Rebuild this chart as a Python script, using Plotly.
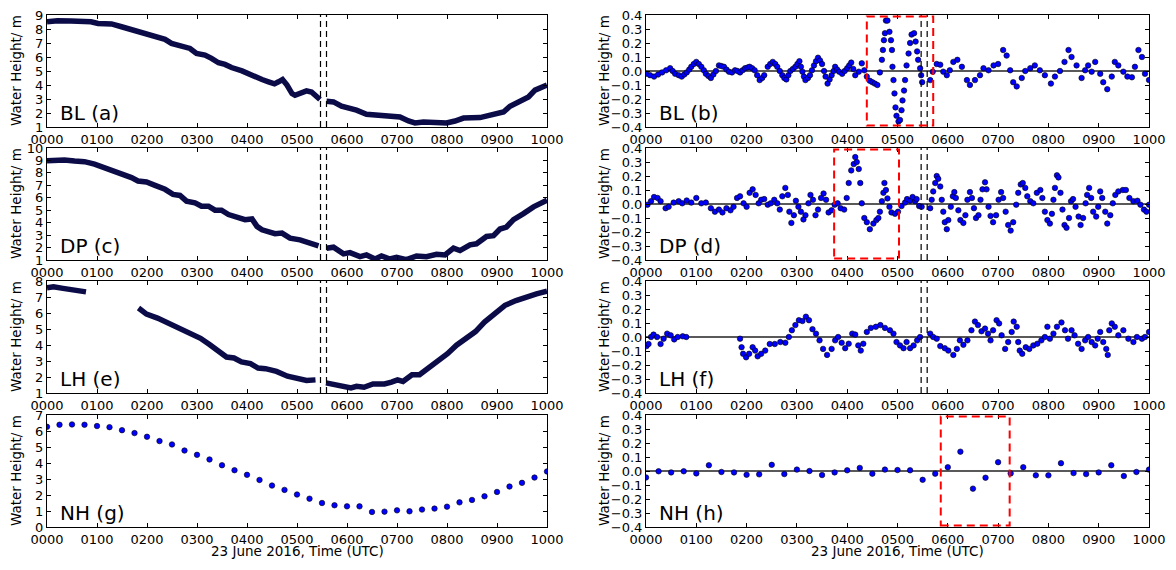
import plotly.graph_objects as go

# ---------------- data ----------------
hour_ticks = list(range(11))
hour_labels = ["0000", "0100", "0200", "0300", "0400", "0500",
               "0600", "0700", "0800", "0900", "1000"]
res_ticks = [-0.4, -0.3, -0.2, -0.1, 0.0, 0.1, 0.2, 0.3, 0.4]
res_labels = ["\u22120.4", "\u22120.3", "\u22120.2", "\u22120.1", "0.0", "0.1", "0.2", "0.3", "0.4"]

event_start = 5.47
event_end = 5.59

# BL water height (a)
bl_t = [0, 0.21, 0.48, 0.75, 0.88, 1.02, 1.15, 1.29, 1.49, 1.69, 1.82, 1.99, 2.16, 2.36, 2.49, 2.66,
        2.86, 2.99, 3.16, 3.29, 3.43, 3.56, 3.69, 3.9, 4.03, 4.16, 4.3, 4.43, 4.55, 4.63, 4.71, 4.8,
        4.9, 4.96, 5.06, 5.19, 5.29, 5.39, 5.46, 5.53, 5.59, 5.73, 5.89, 6.03, 6.19, 6.39, 6.59, 6.86,
        7.06, 7.23, 7.36, 7.53, 7.79, 7.99, 8.16, 8.33, 8.66, 8.83, 8.99, 9.13, 9.26, 9.46, 9.63, 9.76, 10.0]
bl_h = [8.52, 8.59, 8.57, 8.59, 8.52, 8.4, 8.4, 8.36, 8.16, 7.97, 7.85, 7.69, 7.5, 7.26, 6.97, 6.78,
        6.61, 6.26, 6.14, 5.9, 5.59, 5.47, 5.25, 5.01, 4.78, 4.63, 4.39, 4.23, 4.08, 4.23, 4.39, 3.99,
        3.39, 3.27, 3.39, 3.58, 3.5, 3.15, 2.96, None, 2.84, 2.79, 2.48, 2.39, 2.2, 1.91, 1.84, 1.72,
        1.72, 1.43, 1.29, 1.36, 1.36, 1.29, 1.43, 1.64, 1.67, 1.84, 2.0, 2.07, 2.48, 2.79, 3.15, 3.63, 3.99]

# DP water height (c)
dp_t = [0, 0.18, 0.35, 0.55, 0.75, 0.95, 1.15, 1.35, 1.55, 1.69, 1.82, 1.99, 2.16, 2.36, 2.52, 2.66,
        2.79, 2.96, 3.09, 3.23, 3.36, 3.49, 3.63, 3.83, 3.96, 4.1, 4.2, 4.3, 4.43, 4.56, 4.7, 4.86,
        5.06, 5.26, 5.43, 5.51, 5.59, 5.73, 5.93, 6.06, 6.26, 6.39, 6.56, 6.69, 6.86, 6.99, 7.19, 7.39,
        7.59, 7.79, 7.96, 8.13, 8.26, 8.46, 8.59, 8.79, 8.93, 9.06, 9.19, 9.33, 9.53, 9.73, 10.0]
dp_h = [8.97, 9.05, 9.03, 8.95, 8.9, 8.7, 8.43, 8.1, 7.9, 7.62, 7.35, 7.27, 7.0, 6.68, 6.27, 6.19,
        5.73, 5.59, 5.32, 5.32, 5.0, 5.0, 4.65, 4.38, 4.24, 4.3, 3.7, 3.43, 3.3, 3.11, 3.16, 2.76,
        2.62, 2.4, 2.13, None, 1.95, 2.03, 1.49, 1.59, 1.27, 1.41, 1.08, 1.32, 1.08, 1.22, 1.03, 1.32,
        1.27, 1.46, 1.41, 1.95, 1.76, 2.22, 2.3, 2.89, 2.95, 3.49, 3.65, 4.24, 4.73, 5.27, 5.81]

# LH water height (e)
lh_t = [0, 0.13, 0.32, 0.5, 0.62, 0.78, 1.3, 1.83, 1.99, 2.21, 2.44, 2.66, 2.88, 3.07, 3.25, 3.44,
        3.59, 3.74, 3.89, 4.07, 4.22, 4.37, 4.59, 4.81, 5.04, 5.19, 5.37, 5.48, 5.58, 5.74, 5.93, 6.08,
        6.19, 6.34, 6.52, 6.75, 6.89, 7.01, 7.12, 7.3, 7.45, 7.64, 7.82, 8.01, 8.19, 8.38, 8.57, 8.75,
        8.97, 9.16, 9.38, 9.57, 9.79, 10.0]
lh_h = [7.58, 7.64, 7.54, 7.45, 7.43, 7.32, None, 6.31, 5.93, 5.68, 5.36, 5.0, 4.67, 4.42, 4.03, 3.61,
        3.25, 3.19, 2.94, 2.84, 2.56, 2.52, 2.35, 2.05, 1.89, 1.78, 1.82, None, 1.63, 1.51, 1.36, 1.32,
        1.42, 1.36, 1.57, 1.57, 1.68, 1.82, 1.72, 2.14, 2.14, 2.56, 2.98, 3.46, 3.99, 4.41, 4.84, 5.43,
        6.0, 6.48, 6.78, 6.99, 7.2, 7.37]

# NH water height (g), 15-minute samples
nh_t = [0, 0.25, 0.5, 0.75, 1.0, 1.25, 1.5, 1.75, 2.0, 2.25, 2.5, 2.75, 3.0, 3.25, 3.5, 3.75, 4.0,
        4.25, 4.5, 4.75, 5.0, 5.25, 5.5, 5.75, 6.0, 6.25, 6.5, 6.75, 7.0, 7.25, 7.5, 7.75, 8.0, 8.25,
        8.5, 8.75, 9.0, 9.25, 9.5, 9.75, 10.0]
nh_h = [6.26, 6.39, 6.41, 6.39, 6.31, 6.24, 6.05, 5.87, 5.64, 5.37, 5.16, 4.78, 4.51, 4.22, 3.86,
        3.55, 3.26, 2.94, 2.59, 2.32, 2.03, 1.77, 1.5, 1.36, 1.29, 1.29, 0.94, 0.96, 1.04, 0.98, 1.09,
        1.15, 1.27, 1.54, 1.69, 1.92, 2.19, 2.53, 2.76, 3.09, 3.47]
nh_res = [-0.046, -0.002, -0.01, -0.002, -0.017, 0.041, -0.007, -0.01, -0.027, -0.024, 0.044, -0.022,
          0.01, 0.0, -0.029, -0.01, 0.005, 0.022, -0.019, 0.01, 0.007, 0.005, -0.063, -0.019, 0.027,
          0.138, -0.126, -0.048, 0.063, -0.017, 0.027, -0.031, -0.031, 0.056, -0.015, -0.022, -0.01,
          0.041, -0.036, -0.007, 0.01]

# BL residual (b)
bl_res_t = [0.0, 0.08, 0.16, 0.24, 0.32, 0.4, 0.48, 0.53, 0.58, 0.65, 0.71, 0.76, 0.81, 0.86, 0.9, 0.95,
            1.0, 1.05, 1.1, 1.15, 1.19, 1.24, 1.29, 1.34, 1.39, 1.45, 1.5, 1.55, 1.6, 1.65, 1.71, 1.77,
            1.82, 1.87, 1.92, 1.97, 2.02, 2.06, 2.11, 2.16, 2.21, 2.26, 2.31, 2.35, 2.42, 2.47, 2.52,
            2.57, 2.61, 2.66, 2.71, 2.75, 2.79, 2.83, 2.87, 2.92, 2.97, 3.01, 3.05, 3.08, 3.11, 3.14,
            3.17, 3.22, 3.26, 3.3, 3.34, 3.38, 3.42, 3.46, 3.5, 3.54, 3.57, 3.61, 3.65, 3.69, 3.73,
            3.76, 3.8, 3.84, 3.9, 3.95, 4.0, 4.04, 4.08, 4.12, 4.16, 4.23, 4.29, 4.34, 4.39, 4.45, 4.5,
            4.55, 4.6, 4.65, 4.69, 4.71, 4.73, 4.75, 4.77, 4.8, 4.84, 4.87, 4.89, 4.9, 4.92, 4.94, 4.96,
            4.98, 5.02, 5.05, 5.08, 5.1, 5.13, 5.15, 5.18, 5.22, 5.25, 5.28, 5.33, 5.36, 5.39, 5.41,
            5.45, 5.47, 5.49, 5.56, 5.65, 5.7, 5.78, 5.85, 5.91, 5.98, 6.04, 6.11, 6.19, 6.28, 6.38,
            6.44, 6.54, 6.64, 6.71, 6.81, 6.91, 7.0, 7.1, 7.17, 7.24, 7.3, 7.37, 7.47, 7.54, 7.64, 7.73,
            7.83, 7.93, 8.05, 8.13, 8.23, 8.32, 8.4, 8.46, 8.56, 8.66, 8.73, 8.79, 8.86, 8.93, 9.03,
            9.09, 9.17, 9.26, 9.32, 9.39, 9.49, 9.57, 9.66, 9.72, 9.79, 9.86, 9.92, 10.0]
bl_res = [-0.02, -0.03, -0.04, -0.025, -0.01, 0.005, 0.02, 0.0, -0.02, -0.03, -0.04, -0.025, -0.01, 0.01,
          0.03, 0.05, 0.065, 0.05, 0.03, 0.005, -0.02, -0.035, -0.05, -0.025, 0.0, 0.04, 0.035, 0.03,
          0.01, -0.005, -0.01, 0.005, 0.0, -0.01, 0.005, 0.02, 0.025, 0.03, 0.02, 0.005, -0.03, -0.065,
          -0.05, -0.03, 0.03, 0.05, 0.065, 0.05, 0.03, 0.0, -0.03, -0.05, -0.06, -0.03, 0.0, 0.015,
          0.03, 0.05, 0.07, 0.03, -0.005, -0.04, -0.065, -0.05, -0.03, 0.005, 0.04, 0.07, 0.095, 0.075,
          0.05, 0.0, -0.04, -0.09, -0.06, -0.03, 0.0, 0.03, 0.01, -0.005, -0.02, 0.0, 0.02, 0.04, 0.06,
          0.015, -0.03, -0.005, 0.055, 0.005, -0.04, -0.07, -0.08, -0.09, -0.1, -0.01, 0.08, 0.15, 0.22,
          0.27, 0.36, 0.36, 0.28, 0.22, 0.15, 0.03, -0.065, -0.16, -0.26, -0.32, -0.36, -0.35, -0.28,
          -0.21, -0.14, -0.065, 0.04, 0.125, 0.2, 0.26, 0.27, 0.21, 0.14, 0.08, 0.02, -0.03, -0.08, None,
          -0.065, -0.005, 0.05, 0.045, -0.005, -0.03, 0.005, 0.065, 0.08, 0.03, -0.065, -0.1, -0.065,
          -0.03, 0.02, 0.005, 0.04, 0.05, 0.15, 0.11, 0.005, -0.08, -0.11, -0.05, 0.0, 0.02, 0.04, 0.005,
          -0.03, -0.09, -0.04, 0.0, 0.065, 0.15, 0.1, 0.04, -0.05, 0.005, 0.04, -0.005, 0.065, -0.02,
          -0.08, -0.13, -0.04, 0.065, 0.04, -0.005, -0.04, -0.045, 0.03, 0.15, 0.1, -0.02, -0.065]

# DP residual (d)
dp_res_t = [0.03, 0.1, 0.16, 0.23, 0.29, 0.39, 0.45, 0.55, 0.65, 0.72, 0.81, 0.9, 1.0, 1.1, 1.19, 1.29,
            1.37, 1.45, 1.52, 1.6, 1.68, 1.74, 1.81, 1.87, 1.94, 2.0, 2.06, 2.12, 2.18, 2.24, 2.29, 2.35,
            2.42, 2.48, 2.55, 2.61, 2.66, 2.71, 2.77, 2.82, 2.85, 2.89, 2.94, 2.98, 3.03, 3.08, 3.13,
            3.17, 3.23, 3.27, 3.32, 3.37, 3.42, 3.48, 3.53, 3.58, 3.63, 3.69, 3.75, 3.81, 3.87, 3.94,
            3.99, 4.03, 4.08, 4.13, 4.16, 4.19, 4.23, 4.26, 4.29, 4.34, 4.39, 4.45, 4.52, 4.58, 4.62,
            4.65, 4.69, 4.72, 4.74, 4.77, 4.8, 4.84, 4.88, 4.95, 5.01, 5.08, 5.15, 5.19, 5.25, 5.3, 5.35,
            5.38, 5.43, 5.48, 5.56, 5.65, 5.68, 5.71, 5.75, 5.78, 5.81, 5.85, 5.88, 5.91, 5.94, 5.98,
            6.01, 6.06, 6.1, 6.13, 6.16, 6.21, 6.25, 6.31, 6.35, 6.39, 6.44, 6.48, 6.52, 6.56, 6.61,
            6.65, 6.69, 6.74, 6.77, 6.81, 6.85, 6.9, 6.96, 7.01, 7.06, 7.1, 7.15, 7.2, 7.25, 7.3, 7.36,
            7.4, 7.45, 7.49, 7.54, 7.58, 7.64, 7.7, 7.77, 7.84, 7.88, 7.93, 7.98, 8.03, 8.07, 8.1, 8.13,
            8.17, 8.2, 8.24, 8.28, 8.32, 8.36, 8.41, 8.45, 8.49, 8.54, 8.6, 8.64, 8.69, 8.74, 8.77, 8.81,
            8.85, 8.89, 8.95, 8.99, 9.03, 9.07, 9.13, 9.17, 9.23, 9.28, 9.33, 9.39, 9.48, 9.54, 9.61,
            9.69, 9.77, 9.83, 9.9, 9.95, 10.0]
dp_res = [-0.005, 0.02, 0.05, 0.043, 0.02, -0.03, -0.02, 0.01, 0.02, 0.005, 0.025, 0.01, 0.043, 0.005,
          0.01, -0.03, -0.055, -0.04, -0.06, -0.03, -0.045, -0.02, 0.043, 0.055, 0.005, -0.02, 0.08,
          0.105, 0.065, 0.005, 0.03, 0.035, -0.005, 0.005, 0.03, 0.005, -0.04, 0.055, 0.115, 0.065,
          -0.055, -0.135, -0.08, 0.023, -0.02, -0.055, -0.11, -0.08, 0.005, 0.065, 0.03, -0.08, -0.04,
          0.043, 0.075, 0.03, -0.06, -0.045, -0.005, 0.005, -0.03, -0.04, 0.043, 0.15, 0.24, 0.285,
          0.335, 0.3, 0.25, 0.15, 0.005, -0.1, -0.13, -0.18, -0.14, -0.115, -0.1, -0.055, 0.02, 0.08,
          0.15, 0.1, 0.04, -0.02, -0.06, -0.07, -0.055, -0.015, 0.01, 0.035, 0.023, 0.05, 0.02, 0.035,
          -0.015, -0.02, None, -0.03, 0.03, 0.09, 0.15, 0.2, 0.18, 0.125, 0.03, -0.055, -0.13, -0.18,
          -0.115, -0.02, 0.055, 0.085, 0.043, -0.045, -0.115, -0.135, -0.08, 0.03, 0.085, 0.043, -0.03,
          -0.1, -0.08, 0.03, 0.105, 0.155, 0.105, -0.02, -0.085, -0.13, -0.08, 0.03, 0.085, 0.043,
          -0.055, -0.15, -0.19, -0.13, -0.005, 0.08, 0.14, 0.15, 0.115, 0.055, 0.02, 0.005, 0.08, 0.1,
          0.043, -0.055, -0.115, -0.14, -0.07, 0.03, 0.115, 0.205, 0.19, 0.08, -0.04, -0.15, -0.17,
          -0.1, 0.02, 0.035, -0.02, -0.09, -0.15, -0.1, 0.005, 0.065, 0.115, 0.043, -0.055, -0.09, -0.02,
          0.09, 0.043, -0.055, -0.14, -0.08, 0.005, 0.065, 0.09, 0.1, 0.1, 0.043, 0.02, 0.023, -0.005,
          -0.04, -0.055, -0.005]

# LH residual (f)
lh_res_t = [0.01, 0.05, 0.1, 0.15, 0.22, 0.29, 0.35, 0.42, 0.49, 0.56, 0.63, 0.73, 0.8, 1.3, 1.87, 1.9,
            1.93, 1.99, 2.05, 2.12, 2.17, 2.22, 2.29, 2.37, 2.46, 2.56, 2.67, 2.77, 2.84, 2.9, 2.97,
            3.04, 3.11, 3.18, 3.24, 3.31, 3.38, 3.45, 3.52, 3.6, 3.69, 3.76, 3.82, 3.89, 3.96, 4.03,
            4.1, 4.16, 4.22, 4.27, 4.32, 4.39, 4.47, 4.57, 4.66, 4.75, 4.85, 4.92, 4.98, 5.05, 5.12,
            5.18, 5.25, 5.32, 5.39, 5.45, 5.55, 5.65, 5.71, 5.78, 5.85, 5.94, 6.01, 6.11, 6.18, 6.24,
            6.31, 6.39, 6.47, 6.54, 6.6, 6.67, 6.74, 6.8, 6.85, 6.9, 6.97, 7.02, 7.07, 7.14, 7.2, 7.27,
            7.31, 7.37, 7.4, 7.43, 7.48, 7.55, 7.62, 7.7, 7.78, 7.86, 7.93, 7.98, 8.03, 8.1, 8.17, 8.26,
            8.33, 8.39, 8.46, 8.52, 8.59, 8.66, 8.73, 8.79, 8.86, 8.93, 8.98, 9.03, 9.09, 9.15, 9.18,
            9.21, 9.26, 9.32, 9.39, 9.49, 9.59, 9.69, 9.76, 9.86, 9.92, 10.0]
lh_res = [-0.065, -0.05, 0.0, 0.017, 0.0, -0.05, -0.012, 0.024, 0.012, -0.017, 0.0, 0.005, 0.0, None,
          -0.012, -0.073, -0.12, -0.145, -0.12, -0.073, -0.097, -0.138, -0.12, -0.097, -0.05, -0.05,
          -0.036, -0.041, 0.0, 0.048, 0.085, 0.12, 0.114, 0.145, 0.12, 0.056, 0.024, -0.024, -0.085,
          -0.128, -0.085, -0.024, 0.0, -0.041, -0.08, -0.048, 0.024, 0.017, -0.06, -0.097, -0.048,
          0.036, 0.065, 0.073, 0.085, 0.065, 0.048, 0.024, -0.036, -0.06, -0.08, -0.036, -0.08, -0.06,
          -0.024, 0.0, None, 0.024, 0.0, -0.012, -0.065, -0.08, -0.097, -0.128, -0.085, -0.024, -0.056,
          -0.024, 0.048, 0.11, 0.085, 0.041, 0.06, 0.024, -0.024, 0.048, 0.12, 0.097, 0.012, -0.085,
          -0.036, 0.036, 0.11, 0.073, -0.036, -0.097, -0.12, -0.073, -0.085, -0.06, -0.048, -0.024, 0.0,
          0.073, -0.012, 0.024, 0.073, 0.104, 0.048, -0.012, 0.048, 0.012, -0.048, -0.085, -0.024, 0.0,
          -0.036, -0.06, -0.012, 0.036, -0.036, -0.085, -0.128, 0.048, 0.097, 0.073, 0.012, 0.048,
          -0.012, -0.036, 0.0, -0.012, 0.0, 0.036]

# ---------------- figure ----------------
W, H = 1176, 570
OFF = 8  # page body margin in the browser


def px_x(p):
    return (p - OFF) / W


def px_y(p):
    return 1 - (p - OFF) / H


col_px = [(47, 547), (646, 1149)]
row_px = [(15, 127), (148, 260), (281, 393), (415, 527)]
col_dom = [[px_x(a), px_x(b)] for (a, b) in col_px]
row_dom = [[px_y(b), px_y(t)] for (t, b) in row_px]

FONT = "DejaVu Sans"
BLUE = "#0000ff"

panels = [
    # (kind, x, y, label, yrange, ytickvals, yticktext)
    ("line", bl_t, bl_h, "BL (a)", [1, 9], list(range(1, 10)), None),
    ("dots", bl_res_t, bl_res, "BL (b)", [-0.4, 0.4], res_ticks, res_labels),
    ("line", dp_t, dp_h, "DP (c)", [1, 10], list(range(1, 11)), None),
    ("dots", dp_res_t, dp_res, "DP (d)", [-0.4, 0.4], res_ticks, res_labels),
    ("line", lh_t, lh_h, "LH (e)", [1, 8], list(range(1, 9)), None),
    ("dots", lh_res_t, lh_res, "LH (f)", [-0.4, 0.4], res_ticks, res_labels),
    ("dots", nh_t, nh_h, "NH (g)", [0, 7], list(range(0, 8)), None),
    ("dots", nh_t, nh_res, "NH (h)", [-0.4, 0.4], res_ticks, res_labels),
]

red_boxes = {2: (4.39, 5.71), 4: (3.74, 5.03), 8: (5.86, 7.23)}

fig = go.Figure()
layout = dict(
    template="none",
    width=W, height=H, margin=dict(l=0, r=0, t=0, b=0, autoexpand=False),
    paper_bgcolor="white", plot_bgcolor="white", showlegend=False,
    font=dict(family=FONT, size=13, color="black"),
)
shapes = []
annotations = []

for i, (kind, xs, ys, label, yr, ytv, ytt) in enumerate(panels, start=1):
    row, col = (i - 1) // 2, (i - 1) % 2
    xa = "x" if i == 1 else f"x{i}"
    ya = "y" if i == 1 else f"y{i}"
    if kind == "line":
        fig.add_trace(go.Scatter(x=xs, y=ys, mode="lines", connectgaps=False,
                                 line=dict(color="#0b0b48", width=5.5),
                                 xaxis=xa, yaxis=ya, hoverinfo="skip"))
    else:
        fig.add_trace(go.Scatter(x=xs, y=ys, mode="markers",
                                 marker=dict(color=BLUE, size=5.5,
                                             line=dict(color="black", width=0.6)),
                                 xaxis=xa, yaxis=ya, hoverinfo="skip"))
    axis_common = dict(showline=True, linecolor="black", linewidth=1, mirror="allticks",
                       ticks="inside", ticklen=4, tickwidth=1, tickcolor="black",
                       showgrid=False, zeroline=False, automargin=False,
                       ticklabeloverflow="allow",
                       tickfont=dict(family=FONT, size=13, color="black"))
    layout["xaxis" if i == 1 else f"xaxis{i}"] = dict(
        domain=col_dom[col], anchor=ya, range=[0, 10],
        tickvals=hour_ticks, ticktext=hour_labels, **axis_common)
    ydict = dict(domain=row_dom[row], anchor=xa, range=yr, tickvals=ytv, **axis_common)
    if ytt is not None:
        ydict["ticktext"] = ytt
    layout["yaxis" if i == 1 else f"yaxis{i}"] = ydict

    dom_x = f"{xa} domain"
    dom_y = f"{ya} domain"
    # panel label
    annotations.append(dict(text=label, xref=dom_x, yref=dom_y, x=0.022, y=0.0,
                            xanchor="left", yanchor="bottom", showarrow=False,
                            font=dict(family=FONT, size=20, color="black")))
    # y-axis title
    ymid = (row_dom[row][0] + row_dom[row][1]) / 2
    annotations.append(dict(text="Water Height/ m", xref="paper", yref="paper",
                            x=px_x(16 if col == 0 else 604), y=ymid, textangle=-90,
                            xanchor="center", yanchor="middle", showarrow=False,
                            font=dict(family=FONT, size=13.5, color="black")))
    if col == 1:
        shapes.append(dict(type="line", xref=dom_x, yref=ya, x0=0, x1=1, y0=0, y1=0,
                           line=dict(color="#222222", width=1.3), layer="below"))
    if i <= 6:
        for xv in (event_start, event_end):
            shapes.append(dict(type="line", xref=xa, yref=dom_y, x0=xv, x1=xv, y0=0, y1=1,
                               line=dict(color="black", width=1.2, dash="6px,4px")))
    if i in red_boxes:
        x0, x1 = red_boxes[i]
        shapes.append(dict(type="rect", xref=xa, yref=ya, x0=x0, x1=x1, y0=-0.39, y1=0.39,
                           line=dict(color="#ff0000", width=2, dash="8px,5px")))

for col in range(2):
    annotations.append(dict(text="23 June 2016, Time (UTC)", xref="paper", yref="paper",
                            x=(col_dom[col][0] + col_dom[col][1]) / 2, y=px_y(551),
                            xanchor="center", yanchor="middle", showarrow=False,
                            font=dict(family=FONT, size=13.5, color="black")))

layout["shapes"] = shapes
layout["annotations"] = annotations
fig.update_layout(**layout)
fig.write_html("out.html")
